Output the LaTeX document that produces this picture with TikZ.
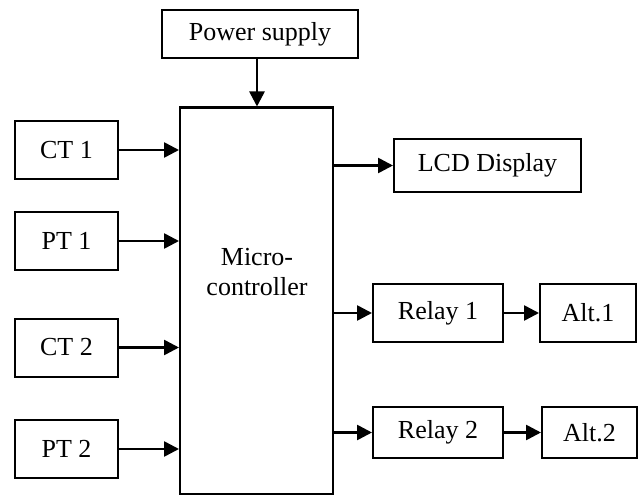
\documentclass[tikz,border=0pt]{standalone}
\usepackage{fontspec}
\setmainfont{Liberation Serif}
\usepackage{tikz}
\usetikzlibrary{arrows.meta}
\tikzset{
  blk/.style={draw=black, line width=2pt, inner sep=0pt, font=\fontsize{26}{30}\selectfont},
  lbl/.style={align=center, font=\fontsize{26}{30}\selectfont},
  arr/.style={draw=black, line width=2.6pt, -{Triangle[length=15pt,width=15pt]}}
}
\begin{document}
\begin{tikzpicture}[x=1pt, y=-1pt]
  \useasboundingbox (0,0) rectangle (643,495);

  % blocks
  \node[blk, minimum width=196pt, minimum height=48pt] (ps) at (260,34) {Power supply};
  \node[blk, minimum width=153pt, minimum height=386pt] (mc) at (256.5,300.5) {};
  \node[lbl] at (257,272) {Micro-\\controller};

  \node[blk, minimum width=103pt, minimum height=58pt] (ct1) at (66.5,150) {CT 1};
  \node[blk, minimum width=103pt, minimum height=58pt] (pt1) at (66.5,241) {PT 1};
  \node[blk, minimum width=103pt, minimum height=58pt] (ct2) at (66.5,347.5) {CT 2};
  \node[blk, minimum width=103pt, minimum height=58pt] (pt2) at (66.5,449) {PT 2};

  \node[blk, minimum width=187pt, minimum height=53pt] (lcd) at (487.5,165.5) {LCD Display};
  \node[blk, minimum width=130pt, minimum height=58pt] (rl1) at (438,313) {Relay 1};
  \node[blk, minimum width=96pt, minimum height=58pt] (alt1) at (588,313) {Alt.1};
  \node[blk, minimum width=130pt, minimum height=51pt] (rl2) at (438,432.5) {Relay 2};
  \node[blk, minimum width=95pt, minimum height=51pt] (alt2) at (589.5,432.5) {Alt.2};

  % connectors
  \draw[arr] (ps.south -| 257,0) -- (mc.north -| 257,0);
  \draw[arr] (ct1.east) -- (ct1.east -| mc.west);
  \draw[arr] (pt1.east) -- (pt1.east -| mc.west);
  \draw[arr] (ct2.east) -- (ct2.east -| mc.west);
  \draw[arr] (pt2.east) -- (pt2.east -| mc.west);
  \draw[arr] (mc.east |- lcd.west) -- (lcd.west);
  \draw[arr] (mc.east |- rl1.west) -- (rl1.west);
  \draw[arr] (mc.east |- rl2.west) -- (rl2.west);
  \draw[arr] (rl1.east) -- (alt1.west);
  \draw[arr] (rl2.east) -- (alt2.west);
\end{tikzpicture}
\end{document}
